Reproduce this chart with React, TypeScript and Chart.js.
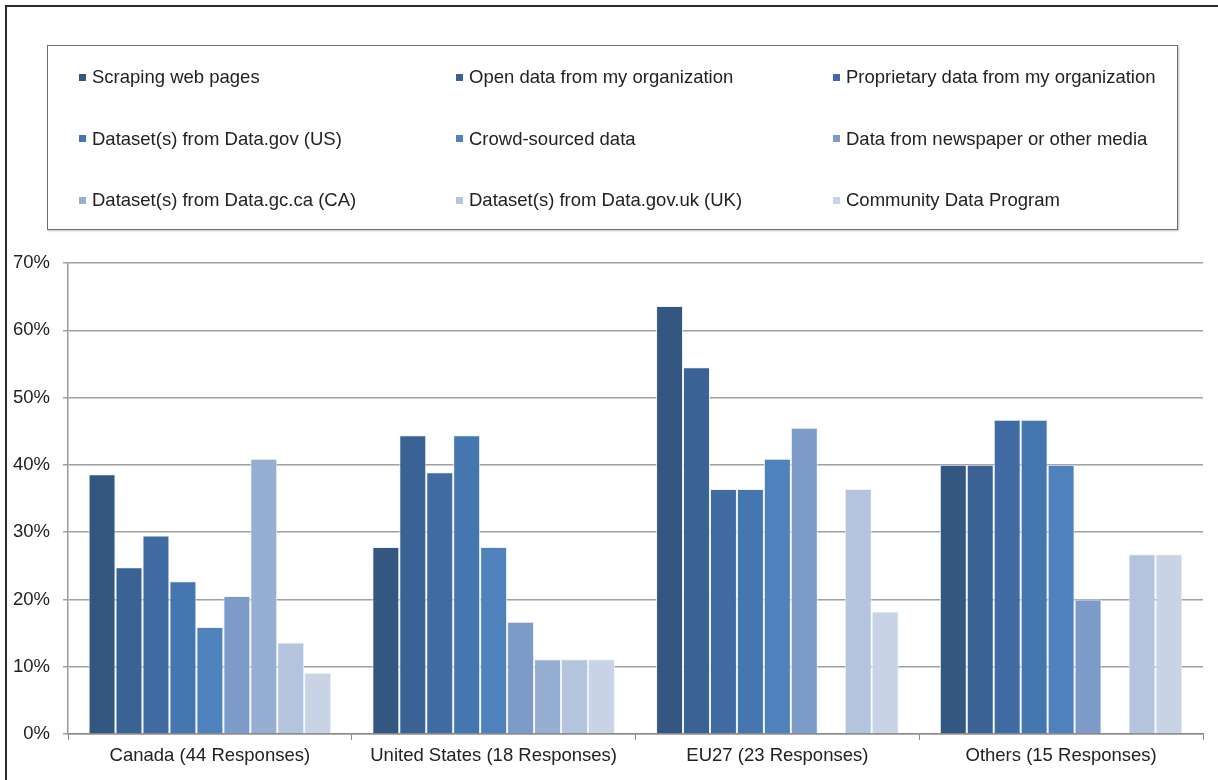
import React, { useEffect, useRef } from "react";
import { Chart, registerables } from "chart.js";

Chart.register(...registerables);

const categories = [
  "Canada (44 Responses)",
  "United States (18 Responses)",
  "EU27 (23 Responses)",
  "Others (15 Responses)",
];

const seriesNames = [
  "Scraping web pages",
  "Open data from my organization",
  "Proprietary data from my organization",
  "Dataset(s) from Data.gov (US)",
  "Crowd-sourced data",
  "Data from newspaper or other media",
  "Dataset(s) from Data.gc.ca (CA)",
  "Dataset(s) from Data.gov.uk (UK)",
  "Community Data Program",
];

const scraping = [38.6, 27.8, 63.6, 40.0];
const openData = [24.8, 44.4, 54.5, 40.0];
const proprietary = [29.5, 38.9, 36.4, 46.7];
const dataGovUS = [22.7, 44.4, 36.4, 46.7];
const crowdSourced = [15.9, 27.8, 40.9, 40.0];
const newspaper = [20.5, 16.7, 45.5, 20.0];
const dataGcCa = [40.9, 11.1, 0, 0];
const dataGovUk = [13.6, 11.1, 36.4, 26.7];
const communityData = [9.1, 11.1, 18.2, 26.7];

const seriesValues = [
  scraping,
  openData,
  proprietary,
  dataGovUS,
  crowdSourced,
  newspaper,
  dataGcCa,
  dataGovUk,
  communityData,
];

const colors = [
  "#345782",
  "#3a6294",
  "#406ca3",
  "#4676b0",
  "#4f81bd",
  "#7d9bc9",
  "#97aed3",
  "#b4c3de",
  "#c8d3e5",
];

const yTicks = [0, 10, 20, 30, 40, 50, 60, 70];

const FONT = "'Liberation Sans', Arial, Helvetica, sans-serif";

export default function App() {
  const ref = useRef<HTMLCanvasElement | null>(null);

  useEffect(() => {
    document.body.style.margin = "0";
    if (!ref.current) return;
    const chart = new Chart(ref.current, {
      type: "bar",
      data: {
        labels: categories,
        datasets: seriesNames.map((name, i) => ({
          label: name,
          data: seriesValues[i],
          backgroundColor: colors[i],
          borderColor: "rgba(235,242,252,0.9)",
          borderWidth: 1,
          categoryPercentage: 0.855,
          barPercentage: 1.0,
        })),
      },
      options: {
        responsive: false,
        animation: false,
        events: [],
        layout: { padding: { top: 263, right: 15, left: 0, bottom: 0 } },
        plugins: {
          legend: { display: false },
          tooltip: { enabled: false },
          title: { display: false },
        },
        scales: {
          x: {
            offset: true,
            grid: {
              offset: true,
              drawOnChartArea: false,
              drawTicks: true,
              tickLength: 6,
              color: "#8a8a8a",
            },
            border: { color: "#8a8a8a", width: 1.5 },
            ticks: {
              color: "#222",
              padding: 5,
              font: { family: FONT, size: 18.5 },
              maxRotation: 0,
              autoSkip: false,
            },
            afterFit: (scale: any) => {
              scale.height = 46;
            },
          },
          y: {
            min: 0,
            max: 70,
            afterBuildTicks: (scale: any) => {
              scale.ticks = yTicks.map((v) => ({ value: v }));
            },
            grid: {
              color: "#a0a0a0",
              lineWidth: 1.5,
              drawTicks: true,
              tickLength: 5,
            },
            border: { color: "#9a9a9a", width: 1.5 },
            ticks: {
              color: "#222",
              padding: 13,
              font: { family: FONT, size: 18.5 },
              callback: (v: any) => v + "%",
            },
            afterFit: (scale: any) => {
              scale.width = 68;
            },
          },
        },
      },
    });
    return () => chart.destroy();
  }, []);

  const legendRows = [0, 1, 2];
  const legendCols = [0, 1, 2];

  return (
    <div
      style={{
        position: "fixed",
        left: 0,
        top: 0,
        width: 1218,
        height: 780,
        background: "#fff",
        overflow: "hidden",
        fontFamily: FONT,
      }}
    >
      <canvas ref={ref} width={1218} height={780} style={{ position: "absolute", left: 0, top: 0 }} />
      <div
        style={{
          position: "absolute",
          left: 5,
          top: 5,
          width: 1230,
          height: 800,
          borderTop: "2px solid #2a2a2a",
          borderLeft: "2px solid #2a2a2a",
          pointerEvents: "none",
        }}
      />
      <div
        style={{
          position: "absolute",
          left: 47,
          top: 45,
          width: 1129,
          height: 183,
          border: "1.5px solid #6f6f6f",
          boxShadow: "1px 1px 2px rgba(0,0,0,0.25)",
          background: "#fff",
        }}
      >
        {legendRows.map((r) =>
          legendCols.map((c) => {
            const idx = r * 3 + c;
            return (
              <div
                key={idx}
                style={{
                  position: "absolute",
                  left: 31 + c * 377,
                  top: 31 + r * 61.5 - 12,
                  height: 24,
                  display: "flex",
                  alignItems: "center",
                  whiteSpace: "nowrap",
                  fontSize: 18.5,
                  color: "#222",
                }}
              >
                <span
                  style={{
                    display: "inline-block",
                    width: 7,
                    height: 7,
                    background: colors[idx],
                    marginRight: 6,
                  }}
                />
                <span>{seriesNames[idx]}</span>
              </div>
            );
          })
        )}
      </div>
    </div>
  );
}
